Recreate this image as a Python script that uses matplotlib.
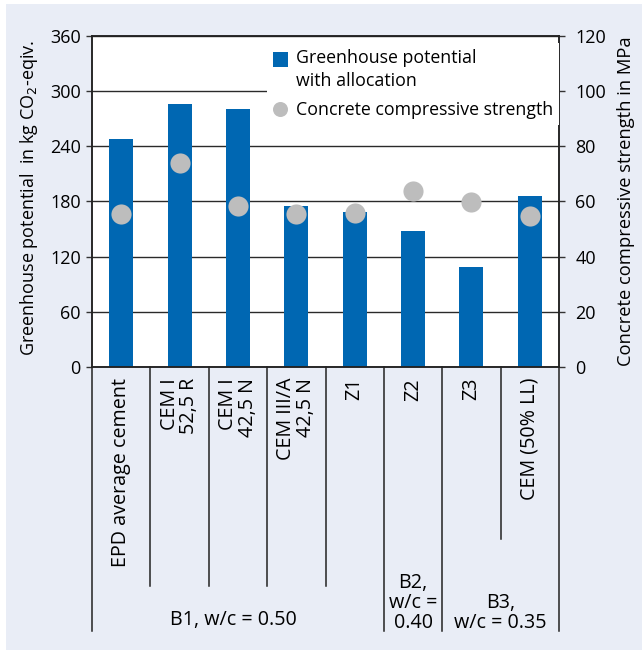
import matplotlib
matplotlib.use("Agg")
import matplotlib.pyplot as plt
from matplotlib.patches import Rectangle
from matplotlib.lines import Line2D
from matplotlib.legend_handler import HandlerPatch
import matplotlib.transforms as mtransforms

plt.rcParams['font.family'] = ['Open Sans', 'DejaVu Sans']

# ---------------- data ----------------
categories = ["EPD average cement", "CEM I\n52,5 R", "CEM I\n42,5 N",
              "CEM III/A\n42,5 N", "Z1", "Z2", "Z3", "CEM (50% LL)"]
ghg_values = [248, 286, 280, 175, 169, 148, 109, 186]          # kg CO2-eqiv.
strength_values = [55.4, 73.8, 58.2, 55.4, 56.0, 63.8, 59.7, 54.6]  # MPa
group_labels = ["B1, w/c = 0.50", "B2,\nw/c =\n0.40", "B3,\nw/c = 0.35"]
group_first = [0, 5, 6]
group_last = [4, 5, 7]
left_ticks = [0, 60, 120, 180, 240, 300, 360]
right_ticks = [0, 20, 40, 60, 80, 100, 120]

# ---------------- style ----------------
W, H = 642, 652
BG = '#e9edf6'
BAR = '#0067b2'
DOT = '#bdbdbd'
LINE = '#222222'
FS = 13
FS_CAT = 14.2
FS_LEG = 12.8

fig = plt.figure(figsize=(W / 100, H / 100), dpi=100)
fig.patch.set_facecolor('white')
fig.patches.append(Rectangle((6 / W, 2 / H), 1, (650 - 4) / H, transform=fig.transFigure,
                             facecolor=BG, edgecolor='none', zorder=-10))

ax_l, ax_r, ax_t, ax_b = 92, 559, 35.7, 367.3
ax = fig.add_axes([ax_l / W, 1 - ax_b / H, (ax_r - ax_l) / W, (ax_b - ax_t) / H])
ax.set_facecolor('white')
x = list(range(len(categories)))
ax.bar(x, ghg_values, width=0.41, color=BAR, zorder=2)
ax.set_xlim(-0.5, len(categories) - 0.5)
ax.set_ylim(0, 360)
ax.set_yticks(left_ticks)
ax.set_xticks([])
ax.set_axisbelow(True)
ax.yaxis.grid(True, color='#2a2a2a', linewidth=1.0)
ax.tick_params(axis='y', direction='out', length=4.3, width=1.0, pad=3.8,
               labelsize=FS, color='#333333')
for s in ax.spines.values():
    s.set_color(LINE)
    s.set_linewidth(1.1)

ax2 = ax.twinx()
ax2.set_ylim(0, 120)
ax2.set_yticks(right_ticks)
ax2.tick_params(axis='y', direction='out', length=4.3, width=1.0, pad=7.5,
                labelsize=FS, color='#333333')
ax2.plot(x, strength_values, linestyle='none', marker='o', markersize=14.5,
         markerfacecolor=DOT, markeredgecolor='none', zorder=3)
for s in ax2.spines.values():
    s.set_color(LINE)
    s.set_linewidth(1.1)

# axis titles
fig.text(29 / W, 1 - 198 / H, "Greenhouse potential  in kg CO$_2$-eqiv.",
         rotation=90, ha='center', va='center', fontsize=FS)
fig.text(626 / W, 1 - 201 / H, "Concrete compressive strength in MPa",
         rotation=90, ha='center', va='center', fontsize=13.2)

# legend
def shifted_square(legend, orig_handle, xdescent, ydescent, width, height, fontsize):
    side = 10.8
    return Rectangle((-xdescent, -ydescent + height / 2 - side / 2 + 7.6), side, side)

sq = Rectangle((0, 0), 1, 1, facecolor=BAR, edgecolor='none')
dot = Line2D([], [], linestyle='none', marker='o', markersize=10.8,
             markerfacecolor=DOT, markeredgecolor='none')
leg = ax2.legend([sq, dot], ["Greenhouse potential\nwith allocation",
                             "Concrete compressive strength"],
                 loc='upper right', bbox_to_anchor=(1.0, 1.0 - 7 / 331.6), borderaxespad=0.0,
                 frameon=True, fancybox=False, framealpha=1.0, facecolor='white',
                 edgecolor='none', fontsize=FS_LEG, handlelength=0.857, handletextpad=0.45,
                 borderpad=0.33, labelspacing=0.62,
                 handler_map={Rectangle: HandlerPatch(patch_func=shifted_square)})
for t in leg.get_texts():
    t.set_linespacing(1.42)
leg.set_zorder(5)

# category table below the axis
blend = mtransforms.blended_transform_factory(ax.transData, ax.transAxes)
px = (ax_b - ax_t)
def yfrac(ypix):
    return -(ypix - ax_b) / px

for i, lab in enumerate(categories):
    ax.text(i, yfrac(378), lab, transform=blend, rotation=90, ha='center', va='top',
            multialignment='right', fontsize=FS_CAT, linespacing=0.98, clip_on=False)

full_bottom = yfrac(630.5)
inner_bottom = {0: yfrac(586), 1: yfrac(630.5), 2: yfrac(539)}
bounds = set()
for g, (a, b) in enumerate(zip(group_first, group_last)):
    bounds.add(a - 0.5)
    bounds.add(b + 0.5)
    for k in range(a, b):
        ax.add_line(Line2D([k + 0.5, k + 0.5], [0, inner_bottom[g]], transform=blend,
                           color=LINE, linewidth=1.1, clip_on=False))
for bx in sorted(bounds):
    ax.add_line(Line2D([bx, bx], [0, full_bottom], transform=blend,
                       color=LINE, linewidth=1.1, clip_on=False))

group_centers_px = [620, 603, 613]
for g, lab in enumerate(group_labels):
    cx = (group_first[g] + group_last[g]) / 2
    if g == 0:
        cx -= 0.07
    ax.text(cx, yfrac(group_centers_px[g]), lab, transform=blend, ha='center',
            va='center', multialignment='center', fontsize=FS_CAT, linespacing=0.98,
            clip_on=False)

fig.savefig("out.png", dpi=100, facecolor=fig.get_facecolor())
